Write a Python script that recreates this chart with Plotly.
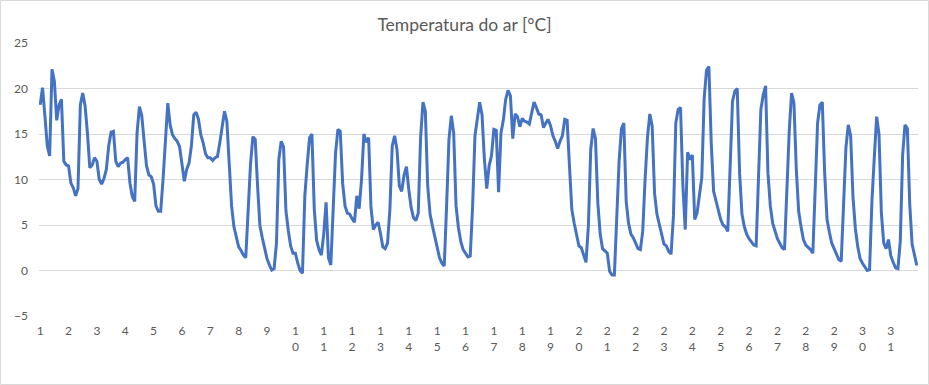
import plotly.graph_objects as go

titulo = "Temperatura do ar [°C]"
passo_horas = 2  # intervalo entre leituras (h)

# Temperatura do ar [°C], leituras a cada 2 h, dias 1-7
semana1 = [18.2, 20.1, 17.0, 13.7, 12.6, 22.1, 20.8, 16.5, 18.2, 18.8, 12.0, 11.6,
           11.5, 9.6, 9.1, 8.2, 9.0, 18.2, 19.5, 18.1, 15.1, 11.3, 11.6, 12.4,
           12.0, 10.0, 9.5, 10.1, 11.1, 13.7, 15.2, 15.3, 12.0, 11.4, 11.8, 11.9,
           12.2, 12.4, 9.6, 8.1, 7.6, 15.1, 18.0, 17.0, 14.2, 11.5, 10.5, 10.3,
           9.5, 7.1, 6.5, 6.5, 10.0, 13.7, 18.4, 16.0, 14.9, 14.5, 14.2, 13.6,
           11.5, 9.8, 11.1, 11.8, 13.7, 17.1, 17.4, 16.6, 14.9, 14.0, 12.8, 12.4,
           12.4, 12.1, 12.4, 12.5, 14.0, 16.0, 17.5, 16.4, 12.0, 7.1, 4.8, 3.6]
# dias 8-14
semana2 = [2.6, 2.2, 1.7, 1.4, 6.0, 11.6, 14.7, 14.4, 9.3, 4.9, 3.6, 2.3,
           1.3, 0.6, 0.05, 0.2, 3.0, 12.2, 14.2, 13.6, 6.6, 4.4, 2.7, 1.9,
           1.9, 0.8, 0.0, -0.3, 8.2, 11.6, 14.6, 15.0, 6.7, 3.3, 2.3, 1.7,
           4.0, 7.5, 1.4, 0.6, 7.1, 12.9, 15.5, 15.3, 9.6, 7.1, 6.3, 6.2,
           5.7, 5.3, 8.2, 6.8, 10.0, 15.0, 14.1, 14.6, 6.9, 4.5, 5.0, 5.3,
           4.1, 2.6, 2.4, 3.0, 6.7, 13.7, 14.8, 13.3, 9.3, 8.7, 10.5, 11.4,
           8.9, 6.9, 5.8, 5.5, 6.3, 14.6, 18.5, 17.5, 9.3, 6.2, 4.9, 3.8]
# dias 15-21
semana3 = [2.6, 1.4, 0.8, 0.5, 7.1, 14.4, 17.0, 15.1, 7.1, 4.7, 3.2, 2.3,
           1.9, 1.5, 1.6, 7.0, 14.8, 16.8, 18.5, 17.1, 12.2, 9.0, 11.5, 12.6,
           15.5, 15.4, 8.6, 15.1, 16.5, 18.8, 19.8, 19.2, 14.5, 17.2, 16.9, 15.8,
           16.7, 16.4, 16.3, 16.1, 17.3, 18.5, 17.9, 17.2, 17.1, 15.7, 16.2, 16.6,
           15.9, 14.8, 14.2, 13.4, 14.2, 14.8, 16.6, 16.5, 11.5, 6.7, 5.2, 3.8,
           2.7, 2.5, 1.6, 0.9, 4.9, 13.3, 15.6, 14.5, 7.4, 4.0, 2.4, 2.1,
           1.9, -0.1, -0.5, -0.5, 6.0, 12.0, 15.6, 16.2, 7.6, 5.2, 4.0, 3.6]
# dias 22-28
semana4 = [3.0, 2.4, 2.3, 4.3, 10.0, 14.6, 17.2, 15.9, 8.5, 6.2, 5.1, 3.8,
           2.9, 2.7, 2.1, 1.8, 6.0, 16.2, 17.7, 17.9, 9.3, 4.5, 13.0, 12.2,
           12.7, 5.6, 6.3, 8.3, 10.2, 18.9, 22.0, 22.4, 14.0, 8.7, 7.6, 6.5,
           5.6, 5.0, 4.8, 4.3, 12.4, 18.6, 19.7, 20.0, 10.7, 6.2, 4.8, 4.0,
           3.5, 3.2, 2.8, 2.7, 9.3, 17.7, 19.3, 20.3, 10.7, 7.1, 5.2, 4.2,
           3.5, 3.0, 2.5, 2.3, 8.9, 15.3, 19.5, 18.4, 11.1, 6.5, 4.8, 3.4,
           2.8, 2.6, 2.3, 1.9, 9.3, 16.2, 18.2, 18.5, 10.7, 5.6, 4.2, 3.0]
# dias 29-31
semana5 = [2.4, 1.8, 1.2, 1.0, 6.7, 13.5, 16.0, 14.8, 8.0, 4.6, 2.6, 1.3,
           0.8, 0.4, 0.0, 0.1, 7.6, 12.4, 16.9, 15.0, 6.3, 3.0, 2.4, 3.4,
           1.6, 0.9, 0.3, 0.2, 3.2, 12.7, 16.0, 15.6, 7.3, 2.9, 1.5, 0.55]

dias = list(range(1, 32))
rotulos_dias = ["<br>".join(str(d)) for d in dias]
valores_y = [-5, 0, 5, 10, 15, 20, 25]

temperatura = semana1 + semana2 + semana3 + semana4 + semana5
horas = [i * passo_horas for i in range(len(temperatura))]
ticks_x = [(d - 1) * 24 for d in dias]

FONT = "Lato, Liberation Sans, Arial, sans-serif"
CINZA = "#595959"

fig = go.Figure()
fig.add_trace(go.Scatter(
    x=horas, y=temperatura, mode="lines",
    line=dict(color="#4472C4", width=3),
    showlegend=False, hoverinfo="skip"))

W, H = 929, 385
ml, mr, mt, mb = 39, 11, 43, 69
pw, ph = W - ml - mr, H - mt - mb

fig.update_layout(
    width=W, height=H,
    margin=dict(l=ml, r=mr, t=mt, b=mb, pad=0),
    paper_bgcolor="white", plot_bgcolor="white",
    title=dict(text=titulo, x=0.5, xref="container", xanchor="center",
               y=1 - 25 / H, yref="container", yanchor="middle",
               font=dict(family=FONT, size=17.5, color=CINZA)),
    font=dict(family=FONT, size=12, color=CINZA),
    shapes=[dict(type="rect", xref="paper", yref="paper",
                 x0=(-ml + 0.5) / pw, x1=1 + (mr - 0.5) / pw,
                 y0=(-mb + 0.5) / ph, y1=1 + (mt - 0.5) / ph,
                 line=dict(color="#D9D9D9", width=1), layer="below")],
)
fig.update_xaxes(
    range=[-1, 743], tickmode="array", tickvals=ticks_x, ticktext=rotulos_dias,
    showgrid=False, zeroline=False, showline=False, ticks="",
    tickfont=dict(family=FONT, size=12, color=CINZA), ticklabelstandoff=6)
fig.update_yaxes(
    range=[-5, 25], tickmode="array", tickvals=valores_y,
    showgrid=True, gridcolor="#D9D9D9", gridwidth=1, zeroline=False,
    showline=False, ticks="",
    tickfont=dict(family=FONT, size=12, color=CINZA), ticklabelstandoff=10)

fig.write_html("out.html",
               config={"displayModeBar": False},
               post_script="document.body.style.margin='0';"
                           "document.body.style.padding='0';")
